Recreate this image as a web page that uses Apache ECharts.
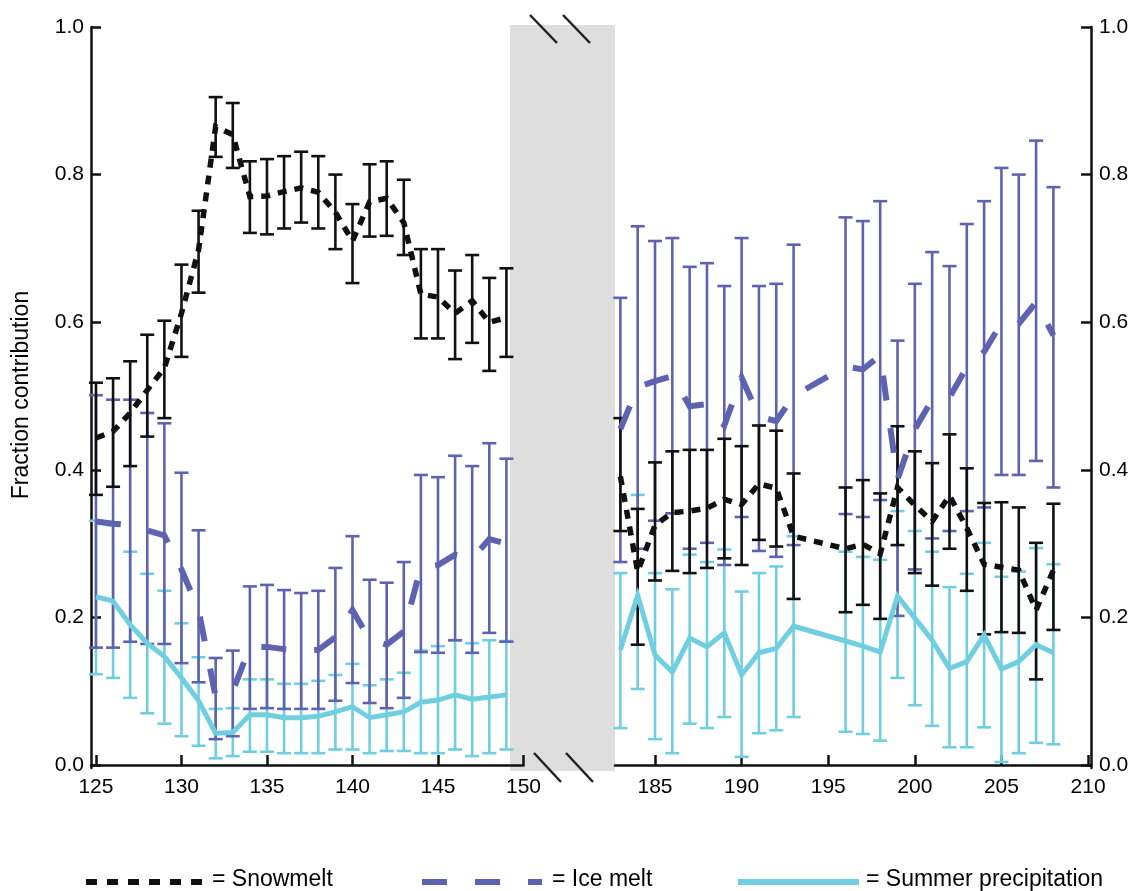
<!DOCTYPE html>
<html>
<head>
<meta charset="utf-8">
<script src="https://cdn.jsdelivr.net/npm/echarts@6/dist/echarts.min.js"></script>
<style>
  html, body { margin: 0; padding: 0; background: #ffffff; }
  #chart { width: 1136px; height: 891px; }
</style>
</head>
<body>
<div id="chart"></div>
<script>
// Day of year, split into an early window and a late window
const daysEarly = [125,126,127,128,129,130,131,132,133,134,135,136,137,138,139,140,141,142,143,144,145,146,147,148,149];
const daysLate = [183,184,185,186,187,188,189,190,191,192,193,196,197,198,199,200,201,202,203,204,205,206,207,208];

// Snowmelt fraction (mean, lower, upper)
const snowEarly = [0.443,0.452,0.477,0.508,0.538,0.612,0.698,0.865,0.854,0.770,0.771,0.777,0.782,0.776,0.749,0.710,0.763,0.768,0.735,0.638,0.634,0.612,0.629,0.600,0.606];
const snowEarlyLo = [0.366,0.377,0.405,0.445,0.470,0.553,0.640,0.824,0.809,0.721,0.719,0.727,0.735,0.727,0.699,0.653,0.716,0.717,0.691,0.578,0.578,0.550,0.572,0.534,0.553];
const snowEarlyHi = [0.518,0.524,0.547,0.583,0.602,0.678,0.751,0.905,0.897,0.818,0.821,0.825,0.831,0.825,0.800,0.760,0.814,0.818,0.793,0.699,0.699,0.670,0.691,0.660,0.673];
const snowLate = [0.391,0.262,0.325,0.342,0.344,0.348,0.360,0.353,0.381,0.375,0.310,0.293,0.299,0.286,0.376,0.352,0.330,0.365,0.321,0.272,0.268,0.264,0.210,0.264];
const snowLateLo = [0.317,0.163,0.250,0.263,0.260,0.267,0.280,0.271,0.305,0.296,0.225,0.207,0.217,0.198,0.298,0.260,0.243,0.293,0.236,0.177,0.180,0.179,0.116,0.183];
const snowLateHi = [0.470,0.347,0.410,0.425,0.427,0.427,0.442,0.432,0.460,0.453,0.395,0.376,0.386,0.368,0.459,0.425,0.409,0.448,0.402,0.355,0.356,0.349,0.301,0.354];

// Ice melt fraction (mean, lower, upper)
const iceEarly = [0.330,0.327,0.325,0.318,0.311,0.265,0.210,0.092,0.100,0.160,0.160,0.157,0.155,0.156,0.173,0.210,0.170,0.163,0.181,0.268,0.271,0.285,0.280,0.306,0.300];
const iceEarlyLo = [0.159,0.159,0.167,0.164,0.164,0.138,0.112,0.035,0.039,0.076,0.077,0.076,0.076,0.076,0.087,0.111,0.084,0.077,0.091,0.153,0.152,0.169,0.152,0.179,0.167];
const iceEarlyHi = [0.501,0.495,0.495,0.477,0.463,0.396,0.318,0.145,0.155,0.242,0.244,0.237,0.233,0.236,0.267,0.310,0.251,0.247,0.275,0.393,0.390,0.419,0.405,0.436,0.415];
const iceLate = [0.455,0.512,0.520,0.527,0.486,0.489,0.460,0.525,0.472,0.466,0.500,0.540,0.536,0.555,0.387,0.455,0.495,0.498,0.539,0.560,0.599,0.598,0.627,0.582];
const iceLateLo = [0.275,0.293,0.331,0.341,0.293,0.301,0.271,0.336,0.290,0.282,0.298,0.340,0.336,0.359,0.202,0.265,0.307,0.317,0.344,0.349,0.393,0.393,0.412,0.376];
const iceLateHi = [0.633,0.730,0.710,0.714,0.675,0.680,0.649,0.714,0.649,0.652,0.705,0.742,0.737,0.764,0.575,0.652,0.695,0.676,0.733,0.764,0.809,0.800,0.846,0.783];

// Summer precipitation fraction (mean, lower, upper)
const rainEarly = [0.228,0.222,0.190,0.165,0.147,0.118,0.087,0.043,0.044,0.068,0.068,0.064,0.064,0.066,0.072,0.079,0.064,0.068,0.072,0.085,0.088,0.095,0.089,0.092,0.095];
const rainEarlyLo = [0.123,0.118,0.091,0.070,0.056,0.039,0.026,0.009,0.012,0.018,0.018,0.016,0.016,0.016,0.021,0.021,0.016,0.019,0.019,0.016,0.016,0.021,0.012,0.016,0.021];
const rainEarlyHi = [0.331,0.325,0.289,0.259,0.236,0.192,0.146,0.076,0.077,0.116,0.116,0.110,0.110,0.114,0.122,0.137,0.108,0.116,0.125,0.155,0.161,0.169,0.165,0.169,0.168];
const rainLate = [0.156,0.230,0.149,0.126,0.172,0.160,0.179,0.122,0.152,0.158,0.188,0.168,0.161,0.153,0.229,0.199,0.169,0.131,0.140,0.176,0.130,0.140,0.163,0.152];
const rainLateLo = [0.050,0.103,0.035,0.016,0.056,0.050,0.065,0.011,0.043,0.047,0.065,0.045,0.042,0.033,0.118,0.081,0.053,0.024,0.024,0.051,0.004,0.016,0.030,0.028];
const rainLateHi = [0.260,0.366,0.260,0.238,0.285,0.275,0.292,0.235,0.260,0.269,0.310,0.289,0.282,0.278,0.344,0.317,0.289,0.241,0.259,0.301,0.255,0.262,0.294,0.272];

// Axis tick labels
const xTicksEarly = [125,130,135,140,145,150];
const xTicksLate = [185,190,195,200,205,210];
const yTicks = [0,0.2,0.4,0.6,0.8,1.0];

const COL_SNOW = '#111111';
const COL_ICE = '#5d63b1';
const COL_RAIN = '#6fcfe0';
const FONT = '"Liberation Sans", Arial, Helvetica, sans-serif';

function pairs(xs, ys) { return xs.map((x, i) => [x, ys[i]]); }
function triples(xs, lo, hi) { return xs.map((x, i) => [x, lo[i], hi[i]]); }

// Vertical error bar with flat caps
function errorBar(color, width) {
  return function (params, api) {
    const x = api.value(0);
    const a = api.coord([x, api.value(1)]);
    const b = api.coord([x, api.value(2)]);
    const hw = 7;
    const st = { stroke: color, lineWidth: width };
    return {
      type: 'group',
      children: [
        { type: 'line', shape: { x1: a[0], y1: a[1], x2: b[0], y2: b[1] }, style: st },
        { type: 'line', shape: { x1: a[0] - hw, y1: a[1], x2: a[0] + hw, y2: a[1] }, style: st },
        { type: 'line', shape: { x1: b[0] - hw, y1: b[1], x2: b[0] + hw, y2: b[1] }, style: st }
      ]
    };
  };
}

function errSeries(gi, xs, lo, hi, color, z) {
  return {
    type: 'custom', xAxisIndex: gi, yAxisIndex: gi, z: z,
    renderItem: errorBar(color, 2.6),
    encode: { x: 0, y: [1, 2] },
    data: triples(xs, lo, hi),
    silent: true
  };
}

function lineSeries(gi, xs, ys, color, width, dash, z) {
  return {
    type: 'line', xAxisIndex: gi, yAxisIndex: gi, z: z,
    data: pairs(xs, ys),
    symbol: 'none',
    lineStyle: { color: color, width: width, type: dash, cap: 'butt', join: 'miter' },
    silent: true
  };
}

const axisCommon = {
  axisLine: { show: true, lineStyle: { color: '#111', width: 2.5 } },
  axisTick: { show: true, inside: true, length: 10, lineStyle: { color: '#111', width: 2.5 } },
  splitLine: { show: false },
  axisLabel: { color: '#000', fontSize: 21, fontFamily: FONT }
};

function xAxisDef(gi, min, max, ticks) {
  return {
    type: 'value', gridIndex: gi, min: min, max: max, position: 'bottom',
    axisLine: axisCommon.axisLine,
    axisTick: Object.assign({}, axisCommon.axisTick, { customValues: ticks }),
    splitLine: { show: false },
    axisLabel: Object.assign({}, axisCommon.axisLabel, { customValues: ticks, margin: 9 })
  };
}

function yAxisDef(gi, pos, margin) {
  return {
    type: 'value', gridIndex: gi, min: -0.0041, max: 1.0, position: pos,
    axisLine: axisCommon.axisLine,
    axisTick: Object.assign({}, axisCommon.axisTick, { customValues: yTicks }),
    splitLine: { show: false },
    axisLabel: Object.assign({}, axisCommon.axisLabel, {
      customValues: yTicks, margin: margin,
      formatter: v => Number(v).toFixed(1)
    })
  };
}

const chart = echarts.init(document.getElementById('chart'), null, { renderer: 'canvas' });

const DASH_SNOW = [9, 8];
const DASH_ICE = [25, 28];

const option = {
  animation: false,
  backgroundColor: '#ffffff',
  grid: [
    { left: 91, top: 27, width: 432.5, height: 741 },
    { left: 615, top: 27, width: 476, height: 741 }
  ],
  xAxis: [
    xAxisDef(0, 124.71, 150, xTicksEarly),
    xAxisDef(1, 182.69, 210.17, xTicksLate)
  ],
  yAxis: [
    yAxisDef(0, 'left', 7),
    yAxisDef(1, 'right', 8)
  ],
  series: [
    errSeries(0, daysEarly, rainEarlyLo, rainEarlyHi, COL_RAIN, 2),
    errSeries(0, daysEarly, iceEarlyLo, iceEarlyHi, COL_ICE, 3),
    errSeries(0, daysEarly, snowEarlyLo, snowEarlyHi, COL_SNOW, 4),
    lineSeries(0, daysEarly, rainEarly, COL_RAIN, 5, 'solid', 5),
    lineSeries(0, daysEarly, iceEarly, COL_ICE, 6, DASH_ICE, 6),
    lineSeries(0, daysEarly, snowEarly, COL_SNOW, 5.5, DASH_SNOW, 7),

    errSeries(1, daysLate, rainLateLo, rainLateHi, COL_RAIN, 2),
    errSeries(1, daysLate, iceLateLo, iceLateHi, COL_ICE, 3),
    errSeries(1, daysLate, snowLateLo, snowLateHi, COL_SNOW, 4),
    lineSeries(1, daysLate, rainLate, COL_RAIN, 5, 'solid', 5),
    lineSeries(1, daysLate, iceLate, COL_ICE, 6, DASH_ICE, 6),
    lineSeries(1, daysLate, snowLate, COL_SNOW, 5.5, DASH_SNOW, 7)
  ],
  graphic: [
    // shaded break between the two windows
    { type: 'rect', z: -1, shape: { x: 510, y: 25, width: 105, height: 746 }, style: { fill: '#dedede' } },
    // break marks
    { type: 'line', z: 100, shape: { x1: 530, y1: 15, x2: 557, y2: 43 }, style: { stroke: '#222', lineWidth: 2.5 } },
    { type: 'line', z: 100, shape: { x1: 563, y1: 15, x2: 590, y2: 43 }, style: { stroke: '#222', lineWidth: 2.5 } },
    { type: 'line', z: 100, shape: { x1: 534, y1: 753, x2: 561, y2: 782 }, style: { stroke: '#222', lineWidth: 2.5 } },
    { type: 'line', z: 100, shape: { x1: 566, y1: 753, x2: 593, y2: 782 }, style: { stroke: '#222', lineWidth: 2.5 } },
    // y-axis title
    { type: 'text', z: 100, x: 22, y: 395, rotation: Math.PI / 2,
      style: { text: 'Fraction contribution', fill: '#000', font: '23px ' + FONT, textAlign: 'center', textVerticalAlign: 'middle' } },
    // legend
    { type: 'line', z: 100, shape: { x1: 86, y1: 882, x2: 202, y2: 882 }, style: { stroke: COL_SNOW, lineWidth: 6, lineDash: [11, 10] } },
    { type: 'text', z: 100, x: 212, y: 880, style: { text: '= Snowmelt', fill: '#000', font: '23px ' + FONT, textVerticalAlign: 'middle' } },
    { type: 'line', z: 100, shape: { x1: 422, y1: 882, x2: 542, y2: 882 }, style: { stroke: COL_ICE, lineWidth: 6, lineDash: [25, 28] } },
    { type: 'text', z: 100, x: 552, y: 880, style: { text: '= Ice melt', fill: '#000', font: '23px ' + FONT, textVerticalAlign: 'middle' } },
    { type: 'line', z: 100, shape: { x1: 738, y1: 882, x2: 859, y2: 882 }, style: { stroke: COL_RAIN, lineWidth: 6 } },
    { type: 'text', z: 100, x: 866, y: 880, style: { text: '= Summer precipitation', fill: '#000', font: '23px ' + FONT, textVerticalAlign: 'middle' } }
  ]
};

chart.setOption(option);
</script>
</body>
</html>
